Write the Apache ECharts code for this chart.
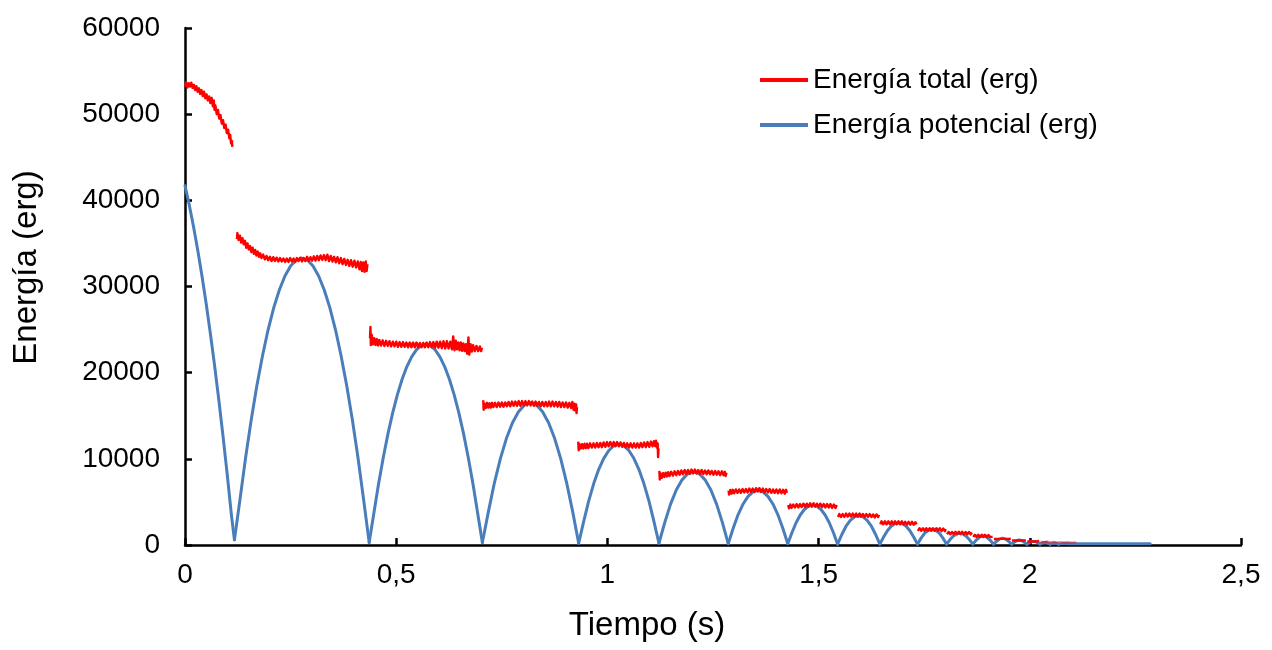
<!DOCTYPE html>
<html>
<head>
<meta charset="utf-8">
<script src="https://cdn.jsdelivr.net/npm/echarts@6/dist/echarts.min.js"></script>
<style>
  html, body { margin: 0; padding: 0; background: #fff; }
  #chart { width: 1272px; height: 650px; }
</style>
</head>
<body>
<div id="chart"></div>
<script>
// Rebote de una pelota: energía total y potencial frente al tiempo.
const NOMBRE_TOTAL = 'Energía total (erg)';
const NOMBRE_POT = 'Energía potencial (erg)';

const ticksX = [0, 0.5, 1, 1.5, 2, 2.5];
const ticksY = [0, 10000, 20000, 30000, 40000, 50000, 60000];

// Energía potencial: un arco por cada vuelo entre botes, [t (s), E (erg)]
const arcosPotencial = [
  [[0,41700],[0.01,39490],[0.02,37000],[0.03,34260],[0.04,31280],[0.05,28050],[0.06,24560],[0.07,20840],[0.08,16860],[0.09,12640],[0.10,8170],[0.11,3440],[0.117,600]],
  [[0.117,600],[0.1303,5320],[0.1436,10180],[0.1569,14570],[0.1702,18500],[0.1835,21970],[0.1967,24980],[0.2100,27520],[0.2233,29600],[0.2366,31220],[0.2499,32370],[0.2632,33070],[0.2765,33300],[0.2898,33070],[0.3031,32370],[0.3164,31220],[0.3297,29600],[0.3430,27520],[0.3563,24980],[0.3695,21970],[0.3828,18500],[0.3961,14570],[0.4094,10180],[0.4227,5320],[0.436,300]],
  [[0.436,300],[0.4472,3720],[0.4583,7120],[0.4695,10190],[0.4807,12950],[0.4918,15370],[0.503,17480],[0.5142,19260],[0.5253,20710],[0.5365,21840],[0.5477,22650],[0.5588,23140],[0.570,23300],[0.5812,23140],[0.5923,22650],[0.6035,21840],[0.6147,20710],[0.6258,19260],[0.637,17480],[0.6482,15370],[0.6593,12950],[0.6705,10190],[0.6817,7120],[0.6928,3720],[0.704,300]],
  [[0.704,300],[0.7183,3870],[0.7325,7220],[0.7468,10060],[0.761,12380],[0.7753,14180],[0.7895,15470],[0.8038,16240],[0.818,16500],[0.8323,16240],[0.8465,15470],[0.8608,14180],[0.875,12380],[0.8893,10060],[0.9035,7220],[0.9178,3870],[0.932,200]],
  [[0.932,200],[0.9439,2740],[0.9558,5120],[0.9676,7130],[0.9795,8780],[0.9914,10060],[1.0033,10970],[1.0151,11520],[1.027,11700],[1.0389,11520],[1.0508,10970],[1.0626,10060],[1.0745,8780],[1.0864,7130],[1.0983,5120],[1.1101,2740],[1.122,200]],
  [[1.122,200],[1.1357,2600],[1.1493,4720],[1.163,6380],[1.1767,7560],[1.1903,8260],[1.204,8500],[1.2177,8260],[1.2313,7560],[1.245,6380],[1.2587,4720],[1.2723,2600],[1.286,150]],
  [[1.286,150],[1.2978,1940],[1.3095,3530],[1.3213,4760],[1.333,5640],[1.3448,6170],[1.3565,6350],[1.3683,6170],[1.38,5640],[1.3918,4760],[1.4035,3530],[1.4153,1940],[1.427,150]],
  [[1.427,150],[1.4368,1420],[1.4467,2580],[1.4565,3480],[1.4663,4120],[1.4762,4510],[1.486,4640],[1.4958,4510],[1.5057,4120],[1.5155,3480],[1.5253,2580],[1.5352,1420],[1.545,100]],
  [[1.545,100],[1.555,1220],[1.565,2180],[1.575,2860],[1.585,3260],[1.595,3400],[1.605,3260],[1.615,2860],[1.625,2180],[1.635,1220],[1.645,100]],
  [[1.645,100],[1.6539,930],[1.6628,1650],[1.6717,2170],[1.6806,2480],[1.6895,2580],[1.6984,2480],[1.7073,2170],[1.7162,1650],[1.7251,930],[1.734,100]],
  [[1.734,100],[1.7426,800],[1.7513,1370],[1.7599,1710],[1.7685,1820],[1.7771,1710],[1.7858,1370],[1.7944,800],[1.803,100]],
  [[1.803,100],[1.8108,600],[1.8185,1020],[1.8263,1280],[1.834,1360],[1.8418,1280],[1.8495,1020],[1.8573,600],[1.865,100]],
  [[1.865,100],[1.8724,530],[1.8822,950],[1.8895,1040],[1.8969,950],[1.9067,530],[1.914,100]],
  [[1.914,100],[1.9205,400],[1.9291,710],[1.9355,780],[1.942,710],[1.9506,400],[1.957,100]],
  [[1.957,100],[1.9624,300],[1.9696,530],[1.975,580],[1.9804,530],[1.9876,300],[1.993,100]],
  [[1.993,100],[1.9977,230],[2.0039,410],[2.0085,450],[2.0132,410],[2.0194,230],[2.024,100]],
  [[2.024,100],[2.0276,170],[2.0324,300],[2.036,330],[2.0396,300],[2.0444,170],[2.048,100]],
  [[2.048,100],[2.053,190],[2.058,240],[2.063,190],[2.068,100]],
  [[2.068,100],[2.076,160],[2.085,170],[2.094,150],[2.285,150]]
];

// Energía total medida en cada vuelo, [t (s), E (erg)]
const tramosTotal = [
  [[0.000,53200],[0.003,53700],[0.006,53100],[0.009,53600],[0.012,53200],[0.015,53650],[0.018,53050],[0.021,53400],[0.024,52800],[0.027,53250],[0.030,52600],[0.033,53000],[0.036,52350],[0.039,52800],[0.042,52100],[0.045,52600],[0.048,51850],[0.051,52300],[0.054,51600],[0.057,52050],[0.060,51300],[0.063,51900],[0.066,50900],[0.068,51600],[0.070,50500],[0.072,51000],[0.075,50000],[0.078,50500],[0.081,49500],[0.084,49900],[0.087,48900],[0.090,49300],[0.093,48400],[0.096,48800],[0.099,47800],[0.102,48200],[0.105,47200],[0.107,47600],[0.109,46600],[0.111,46900],[0.112,46200]],
  [[0.123,35500],[0.124,36200],[0.127,35400],[0.130,35900],[0.133,35100],[0.136,35600],[0.139,34900],[0.142,35300],[0.145,34500],[0.148,35000],[0.151,34300],[0.154,34700],[0.157,34000],[0.160,34500],[0.163,33800],[0.166,34250],[0.169,33600],[0.172,34050],[0.175,33450],[0.178,33850],[0.181,33300],[0.185,33700],[0.189,33150],[0.193,33550],[0.197,33050],[0.201,33450],[0.205,32950],[0.209,33400],[0.213,32950],[0.217,33350],[0.221,32900],[0.225,33300],[0.229,32900],[0.233,33250],[0.237,32850],[0.241,33250],[0.245,32850],[0.249,33300],[0.253,32900],[0.257,33250],[0.261,32850],[0.265,33300],[0.269,32950],[0.273,33350],[0.277,32900],[0.281,33300],[0.285,32950],[0.289,33450],[0.293,32950],[0.297,33400],[0.301,33000],[0.305,33500],[0.309,33000],[0.313,33550],[0.317,33050],[0.321,33600],[0.325,33100],[0.329,33650],[0.333,33050],[0.337,33700],[0.341,32950],[0.345,33550],[0.349,32900],[0.353,33450],[0.357,32800],[0.361,33400],[0.365,32700],[0.369,33300],[0.373,32600],[0.377,33200],[0.381,32500],[0.385,33100],[0.389,32400],[0.393,33050],[0.397,32300],[0.401,33000],[0.405,32200],[0.409,32900],[0.413,32000],[0.416,32850],[0.419,31800],[0.422,32800],[0.425,31700],[0.428,32900],[0.430,31800],[0.432,32600]],
  [[0.438,24000],[0.439,25300],[0.440,23200],[0.442,24400],[0.445,23300],[0.448,24000],[0.451,23200],[0.454,23900],[0.457,23150],[0.460,23800],[0.464,23150],[0.468,23750],[0.472,23100],[0.476,23700],[0.480,23100],[0.484,23650],[0.488,23050],[0.492,23600],[0.496,23050],[0.500,23600],[0.504,23000],[0.508,23550],[0.512,23000],[0.516,23550],[0.520,23000],[0.524,23500],[0.528,22950],[0.532,23500],[0.536,22950],[0.540,23500],[0.544,22950],[0.548,23500],[0.552,22950],[0.556,23450],[0.560,22950],[0.564,23450],[0.568,22950],[0.572,23500],[0.576,22950],[0.580,23550],[0.584,22950],[0.588,23550],[0.592,22900],[0.596,23600],[0.600,22900],[0.604,23600],[0.608,22850],[0.612,23650],[0.616,22800],[0.620,23650],[0.624,22800],[0.628,23600],[0.632,22700],[0.635,24200],[0.638,22600],[0.641,23700],[0.644,22700],[0.647,23500],[0.650,22600],[0.653,23500],[0.656,22550],[0.659,23400],[0.662,22500],[0.665,23300],[0.668,22200],[0.671,24100],[0.673,22100],[0.676,23300],[0.679,22450],[0.682,23200],[0.686,22500],[0.690,23100],[0.694,22500],[0.698,23050],[0.701,22500],[0.703,22900]],
  [[0.706,16800],[0.707,15700],[0.709,16400],[0.712,15900],[0.715,16500],[0.718,15950],[0.721,16450],[0.724,15950],[0.727,16500],[0.730,16000],[0.734,16500],[0.738,16000],[0.742,16550],[0.746,16050],[0.750,16550],[0.754,16050],[0.758,16550],[0.762,16100],[0.766,16600],[0.770,16100],[0.774,16650],[0.778,16150],[0.782,16650],[0.786,16150],[0.790,16700],[0.794,16150],[0.798,16700],[0.802,16200],[0.806,16700],[0.810,16200],[0.814,16700],[0.818,16200],[0.822,16650],[0.826,16150],[0.830,16650],[0.834,16150],[0.838,16600],[0.842,16100],[0.846,16600],[0.850,16100],[0.854,16600],[0.858,16100],[0.862,16650],[0.866,16100],[0.870,16650],[0.874,16100],[0.878,16600],[0.882,16050],[0.886,16600],[0.890,16000],[0.894,16550],[0.898,16000],[0.902,16550],[0.906,15950],[0.910,16500],[0.914,15900],[0.917,16600],[0.920,15700],[0.922,16400],[0.924,15600],[0.926,16300],[0.927,15300],[0.928,16000]],
  [[0.931,12000],[0.932,11000],[0.934,11700],[0.937,11200],[0.940,11700],[0.943,11200],[0.946,11750],[0.949,11250],[0.952,11750],[0.955,11250],[0.959,11800],[0.963,11300],[0.967,11800],[0.971,11300],[0.975,11850],[0.979,11350],[0.983,11850],[0.987,11350],[0.991,11900],[0.995,11400],[0.999,11950],[1.003,11450],[1.007,11950],[1.011,11450],[1.015,11950],[1.019,11450],[1.023,11950],[1.027,11450],[1.031,11900],[1.035,11400],[1.039,11850],[1.043,11350],[1.047,11800],[1.051,11300],[1.055,11800],[1.059,11300],[1.063,11800],[1.067,11300],[1.071,11800],[1.075,11300],[1.079,11850],[1.083,11350],[1.087,11900],[1.091,11350],[1.095,11950],[1.099,11400],[1.103,12000],[1.107,11450],[1.110,12050],[1.113,11500],[1.115,12100],[1.117,11300],[1.119,11800],[1.120,10200],[1.121,11200]],
  [[1.123,8600],[1.124,7600],[1.126,8300],[1.129,7800],[1.132,8350],[1.135,7900],[1.138,8400],[1.141,7950],[1.144,8450],[1.147,8000],[1.151,8500],[1.155,8050],[1.159,8550],[1.163,8100],[1.167,8600],[1.171,8150],[1.175,8650],[1.179,8200],[1.183,8700],[1.187,8250],[1.191,8700],[1.195,8250],[1.199,8750],[1.203,8300],[1.207,8750],[1.211,8300],[1.215,8700],[1.219,8250],[1.223,8700],[1.227,8250],[1.231,8650],[1.235,8200],[1.239,8650],[1.243,8200],[1.247,8600],[1.251,8150],[1.255,8600],[1.259,8150],[1.263,8550],[1.267,8100],[1.271,8550],[1.275,8100],[1.278,8500],[1.280,8000],[1.282,8400]],
  [[1.287,6300],[1.288,5850],[1.291,6400],[1.294,5950],[1.297,6400],[1.300,6000],[1.304,6450],[1.308,6050],[1.312,6450],[1.316,6050],[1.320,6500],[1.324,6100],[1.328,6500],[1.332,6100],[1.336,6550],[1.340,6150],[1.344,6550],[1.348,6150],[1.352,6600],[1.356,6200],[1.360,6600],[1.364,6150],[1.368,6550],[1.372,6100],[1.376,6500],[1.380,6100],[1.384,6500],[1.388,6050],[1.392,6450],[1.396,6050],[1.400,6450],[1.404,6000],[1.408,6450],[1.412,6000],[1.416,6400],[1.420,5950],[1.423,6400],[1.425,6050]],
  [[1.428,4650],[1.430,4250],[1.433,4700],[1.436,4300],[1.440,4700],[1.444,4350],[1.448,4750],[1.452,4350],[1.456,4750],[1.460,4400],[1.464,4800],[1.468,4400],[1.472,4800],[1.476,4450],[1.480,4850],[1.484,4450],[1.488,4850],[1.492,4450],[1.496,4800],[1.500,4400],[1.504,4800],[1.508,4400],[1.512,4750],[1.516,4350],[1.520,4750],[1.524,4350],[1.528,4750],[1.532,4300],[1.536,4700],[1.540,4300],[1.543,4650]],
  [[1.546,3250],[1.549,3600],[1.553,3250],[1.557,3600],[1.561,3250],[1.565,3650],[1.569,3300],[1.573,3650],[1.577,3300],[1.581,3650],[1.585,3300],[1.589,3650],[1.593,3300],[1.597,3650],[1.601,3300],[1.605,3600],[1.609,3250],[1.613,3600],[1.617,3250],[1.621,3600],[1.625,3250],[1.629,3550],[1.633,3200],[1.637,3550],[1.641,3250],[1.643,3500]],
  [[1.646,2400],[1.649,2750],[1.653,2400],[1.657,2750],[1.661,2400],[1.665,2750],[1.669,2400],[1.673,2750],[1.677,2400],[1.681,2750],[1.685,2400],[1.689,2750],[1.693,2400],[1.697,2750],[1.701,2400],[1.705,2700],[1.709,2350],[1.713,2700],[1.717,2350],[1.721,2700],[1.725,2350],[1.729,2650],[1.732,2400]],
  [[1.735,1650],[1.739,1950],[1.743,1650],[1.747,1950],[1.751,1650],[1.755,1950],[1.759,1650],[1.763,1950],[1.767,1650],[1.771,1950],[1.775,1650],[1.779,1950],[1.783,1650],[1.787,1950],[1.791,1600],[1.795,1900],[1.799,1600],[1.801,1850]],
  [[1.804,1250],[1.808,1520],[1.812,1250],[1.816,1520],[1.820,1250],[1.824,1530],[1.828,1260],[1.832,1530],[1.836,1260],[1.840,1530],[1.844,1250],[1.848,1510],[1.852,1240],[1.856,1500],[1.860,1230],[1.863,1450]],
  [[1.866,930],[1.870,1180],[1.874,930],[1.878,1190],[1.882,940],[1.886,1190],[1.890,940],[1.894,1180],[1.898,930],[1.902,1170],[1.906,920],[1.910,1150],[1.912,950]],
  [[1.915,700],[1.919,920],[1.923,700],[1.927,920],[1.931,710],[1.935,920],[1.939,710],[1.943,900],[1.947,700],[1.951,880],[1.955,720]],
  [[1.958,520],[1.962,720],[1.966,530],[1.970,720],[1.974,530],[1.978,710],[1.982,520],[1.986,690],[1.991,540]],
  [[1.994,400],[1.998,570],[2.002,410],[2.006,570],[2.010,410],[2.014,560],[2.018,400],[2.022,530]],
  [[2.025,380],[2.032,330],[2.040,390],[2.048,320],[2.056,360],[2.064,300],[2.072,340],[2.080,290],[2.090,320],[2.100,270],[2.110,300]]
];

const ROJO = '#FF0000';
const AZUL = '#4A7EBB';
const FUENTE = '"Liberation Sans", Arial, sans-serif';
const NEGRO = '#000000';

const series = [];
arcosPotencial.forEach(function (pts) {
  series.push({
    name: NOMBRE_POT, type: 'line', data: pts, smooth: false,
    showSymbol: false, silent: true, z: 2,
    lineStyle: { color: AZUL, width: 3, join: 'round', cap: 'round' }, itemStyle: { color: AZUL }
  });
});
tramosTotal.forEach(function (pts, i) {
  const ultimo = i === tramosTotal.length - 1;
  series.push({
    name: NOMBRE_TOTAL, type: 'line', data: pts, smooth: false,
    showSymbol: false, silent: true, z: 3,
    lineStyle: { color: ROJO, width: 2.4, opacity: ultimo ? 0.45 : 1, join: 'round' },
    itemStyle: { color: ROJO }
  });
});

const ejeComun = {
  axisLine: { show: true, onZero: false, lineStyle: { color: NEGRO, width: 2.5 } },
  axisTick: { show: true, inside: true, length: 7, lineStyle: { color: NEGRO, width: 2.5 } },
  splitLine: { show: false },
  axisLabel: { color: NEGRO, fontFamily: FUENTE, fontSize: 28 }
};

const chart = echarts.init(document.getElementById('chart'), null, { renderer: 'canvas' });
chart.setOption({
  animation: false,
  backgroundColor: '#ffffff',
  textStyle: { fontFamily: FUENTE },
  grid: { left: 185, right: 31, top: 28, bottom: 105, containLabel: false, outerBoundsMode: 'none' },
  legend: {
    data: [NOMBRE_TOTAL, NOMBRE_POT],
    orient: 'vertical',
    left: 760, top: 65,
    padding: 0,
    icon: 'rect',
    itemWidth: 48, itemHeight: 4, itemGap: 15,
    selectedMode: false,
    textStyle: { color: NEGRO, fontFamily: FUENTE, fontSize: 28, lineHeight: 30 }
  },
  xAxis: Object.assign({}, ejeComun, {
    type: 'value',
    min: ticksX[0], max: ticksX[ticksX.length - 1], interval: ticksX[1] - ticksX[0],
    name: 'Tiempo (s)', nameLocation: 'middle', nameGap: 64,
    nameTextStyle: { color: NEGRO, fontFamily: FUENTE, fontSize: 33, padding: [0, 132, 0, 0] },
    axisLabel: Object.assign({}, ejeComun.axisLabel, {
      margin: 16,
      formatter: function (v) { return String(v).replace('.', ','); }
    })
  }),
  yAxis: Object.assign({}, ejeComun, {
    type: 'value',
    min: ticksY[0], max: ticksY[ticksY.length - 1], interval: ticksY[1] - ticksY[0],
    name: 'Energía (erg)', nameLocation: 'middle', nameGap: 142,
    nameTextStyle: { color: NEGRO, fontFamily: FUENTE, fontSize: 33, padding: [0, 0, 0, 38] },
    axisLabel: Object.assign({}, ejeComun.axisLabel, {
      margin: 25,
      formatter: function (v) { return String(v); }
    })
  }),
  series: series
});
</script>
</body>
</html>
